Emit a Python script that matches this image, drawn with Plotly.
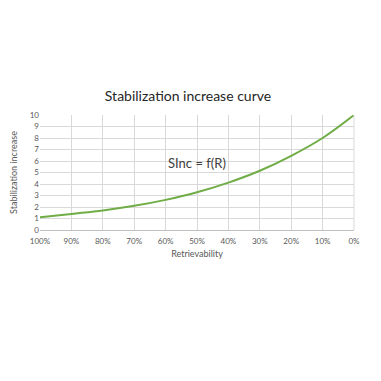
import plotly.graph_objects as go

retrievability = [100, 90, 80, 70, 60, 50, 40, 30, 20, 10, 0]
stab_increase = [1.1, 1.4, 1.7, 2.1, 2.62, 3.28, 4.12, 5.15, 6.45, 8.0, 10.0]
x_ticks = [100, 90, 80, 70, 60, 50, 40, 30, 20, 10, 0]
x_tick_labels = [f"{v}%" for v in x_ticks]
y_ticks = list(range(0, 11))

FONT = "Lato, Open Sans, sans-serif"

W, H = 381, 381
fig = go.Figure()
fig.add_trace(go.Scatter(
    x=retrievability, y=stab_increase, mode="lines",
    line=dict(color="#70ad47", width=2, shape="spline", smoothing=1.0),
    showlegend=False, hoverinfo="skip"))

fig.update_layout(
    width=W, height=H,
    margin=dict(l=32, r=35, t=107, b=159),
    paper_bgcolor="white", plot_bgcolor="white",
    title=dict(text="Stabilization increase curve", x=180 / W, xanchor="center",
               y=1 - 88 / H, yanchor="middle",
               font=dict(family=FONT, size=14, color="#262626")),
    xaxis=dict(range=[100, 0], tickvals=x_ticks, ticktext=x_tick_labels,
               automargin=False,
               showgrid=True, gridcolor="#d9d9d9", gridwidth=1,
               showline=True, linecolor="#bfbfbf", linewidth=1, mirror=False,
               zeroline=False, ticks="", ticklen=0, ticklabelstandoff=3,
               tickfont=dict(family=FONT, size=8, color="#595959"),
               title=dict(text="Retrievability", standoff=6,
                          font=dict(family=FONT, size=9, color="#595959"))),
    yaxis=dict(range=[0, 10], tickvals=y_ticks, automargin=False,
               showgrid=True, gridcolor="#d9d9d9", gridwidth=1,
               showline=False, zeroline=False, ticks="",
               tickfont=dict(family=FONT, size=8, color="#595959"),
               title=dict(text="Stabilization increase", standoff=12,
                          font=dict(family=FONT, size=9, color="#595959"))),
    annotations=[dict(text="SInc = f(R)", x=50, y=5.83, xref="x", yref="y",
                      showarrow=False,
                      font=dict(family=FONT, size=13, color="#404040"))],
)
fig.add_shape(type="line", xref="paper", yref="paper", x0=1, x1=1, y0=0, y1=1,
              line=dict(color="#d9d9d9", width=1))

fig.write_html("out.html")
